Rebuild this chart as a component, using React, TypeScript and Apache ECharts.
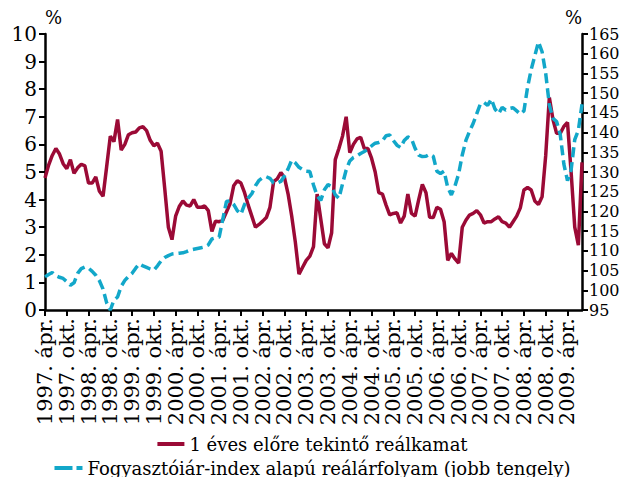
import React, { useEffect, useRef } from "react";
import * as echarts from "echarts";

const MONTH_NAMES = ["jan.", "febr.", "márc.", "ápr.", "máj.", "jún.", "júl.", "aug.", "szept.", "okt.", "nov.", "dec."];
const START_YEAR = 1997;
const START_MONTH = 3; // április
const MONTH_COUNT = 149;
const LABEL_EVERY = 6;

const categories: string[] = [];
for (let i = 0; i < MONTH_COUNT; i++) {
  const mi = START_MONTH + i;
  categories.push(`${START_YEAR + Math.floor(mi / 12)}. ${MONTH_NAMES[mi % 12]}`);
}

const RED_NAME = "1 éves előre tekintő reálkamat";
const BLUE_NAME = "Fogyasztóiár-index alapú reálárfolyam (jobb tengely)";

const realRate: number[] = [
  4.78, 5.25, 5.6, 5.85, 5.65, 5.3, 5.12, 5.45, 4.95, 5.15, 5.28, 5.22,
  4.6, 4.6, 4.82, 4.3, 4.12, 5.2, 6.3, 6.1, 6.9, 5.8, 6.0, 6.35,
  6.42, 6.45, 6.6, 6.64, 6.5, 6.15, 5.95, 6.04, 5.75, 4.4, 3.0, 2.55,
  3.4, 3.75, 3.95, 3.8, 3.77, 4.0, 3.72, 3.72, 3.77, 3.6, 2.85, 3.22,
  3.2, 3.25, 3.55, 3.85, 4.5, 4.68, 4.6, 4.25, 3.8, 3.4, 3.0, 3.1,
  3.22, 3.35, 3.72, 4.65, 4.75, 4.98, 4.8, 4.2, 3.4, 2.45, 1.3, 1.55,
  1.8, 1.95, 2.3, 4.2, 3.3, 2.4, 2.25, 2.8, 5.45, 5.85, 6.3, 7.0,
  5.7, 6.0, 6.2, 6.26, 5.85, 5.85, 5.5, 5.0, 4.25, 4.2, 3.8, 3.45,
  3.5, 3.52, 3.15, 3.4, 4.2, 3.5, 3.4, 4.0, 4.55, 4.25, 3.36, 3.35,
  3.72, 3.65, 3.2, 1.8, 2.05, 1.85, 1.7, 3.0, 3.25, 3.44, 3.5, 3.6,
  3.45, 3.15, 3.2, 3.2, 3.3, 3.38, 3.2, 3.15, 3.0, 3.2, 3.4, 3.7,
  4.35, 4.44, 4.35, 3.95, 3.82, 4.1, 5.6, 7.7, 6.9, 6.4, 6.4, 6.65,
  6.8, 5.0, 3.0, 2.35, 5.35,
];

const realExchangeRate: number[] = [
  103.4, 104.0, 104.5, 103.7, 103.3, 103.0, 102.2, 101.3, 101.9, 104.3, 105.5, 105.9,
  105.6, 104.8, 103.8, 102.4, 100.3, 96.8, 95.0, 97.5, 98.3, 101.0, 102.5, 103.5,
  104.3, 105.6, 106.7, 106.2, 105.8, 105.4, 105.1, 106.2, 107.5, 108.3, 108.8, 109.2,
  109.3, 109.4, 109.5, 109.8, 110.2, 110.4, 110.6, 110.8, 111.0, 111.5, 113.0, 113.3,
  113.5, 118.0, 122.5, 122.7, 121.8, 120.2, 119.3, 121.8, 123.4, 124.5, 126.5, 127.9,
  128.6, 128.8, 128.4, 127.2, 127.2, 127.6, 129.0, 130.8, 133.0, 132.3, 131.2, 130.6,
  130.2, 130.1, 126.7, 124.0, 122.8, 125.5, 126.8, 126.3, 124.2, 123.3, 127.0, 130.5,
  132.8, 133.7, 134.1, 134.7, 135.2, 135.8, 136.6, 137.3, 137.5, 137.9, 139.2, 139.4,
  138.0, 136.8, 136.2, 138.0, 138.9, 138.4, 136.0, 134.3, 133.9, 134.0, 134.5, 134.0,
  130.2, 129.6, 130.2, 126.0, 124.2, 126.5, 129.5, 134.3, 138.0, 140.3, 142.3, 144.8,
  147.3, 147.6, 146.9, 148.5, 146.0, 144.8, 146.4, 145.7, 146.1, 146.3, 145.5, 144.7,
  145.5, 151.5, 156.0, 159.5, 163.0, 160.5, 155.0, 147.0, 143.6, 142.8, 139.5, 132.0,
  127.8, 130.5, 138.2, 140.6, 147.2,
];

const FONT = "DejaVu Serif";
const RED = "#9B0A36";
const BLUE = "#12A7C9";

export default function App() {
  const ref = useRef<HTMLDivElement>(null);
  useEffect(() => {
    if (!ref.current) return;
    const chart = echarts.init(ref.current, undefined, { renderer: "svg" });
    const axisLine = { show: true, lineStyle: { color: "#000", width: 2.5 } };
    const axisTick = { show: true, length: 6, lineStyle: { color: "#000", width: 2 } };
    const legendText = { fontFamily: FONT, fontSize: 18, color: "#000" };
    const every = (index: number) => index % LABEL_EVERY === 0;
    chart.setOption({
      animation: false,
      backgroundColor: "#fff",
      textStyle: { fontFamily: FONT, color: "#000" },
      grid: { left: 45, right: 43, top: 34, bottom: 167, containLabel: false },
      legend: [
        {
          data: [{ name: RED_NAME, icon: "rect" }],
          top: 430,
          left: "center",
          itemWidth: 27,
          itemHeight: 4,
          itemGap: 6,
          textStyle: legendText,
        },
        {
          data: [{ name: BLUE_NAME, icon: "path://M0,0H18V4H0Z M22,0H28V4H22Z" }],
          top: 454,
          left: "center",
          itemWidth: 28,
          itemHeight: 4,
          textStyle: legendText,
        },
      ],
      xAxis: {
        type: "category",
        boundaryGap: false,
        data: categories,
        axisLine,
        axisTick: { ...axisTick, interval: every },
        axisLabel: {
          interval: every,
          rotate: 90,
          margin: 8,
          showMinLabel: true,
          showMaxLabel: true,
          hideOverlap: false,
          fontFamily: FONT,
          fontSize: 21,
          color: "#000",
        },
        splitLine: { show: false },
      },
      yAxis: [
        {
          type: "value",
          position: "left",
          min: 0,
          max: 10,
          interval: 1,
          axisLine,
          axisTick,
          axisLabel: { margin: 8, fontFamily: FONT, fontSize: 20, color: "#000" },
          splitLine: { show: false },
          name: "%",
          nameLocation: "end",
          nameGap: 8,
          nameTextStyle: { align: "left", fontFamily: FONT, fontSize: 18, color: "#000" },
        },
        {
          type: "value",
          position: "right",
          min: 95,
          max: 165,
          interval: 5,
          axisLine,
          axisTick,
          axisLabel: { margin: 7, fontFamily: FONT, fontSize: 16, color: "#000" },
          splitLine: { show: false },
          name: "%",
          nameLocation: "end",
          nameGap: 8,
          nameTextStyle: { align: "right", fontFamily: FONT, fontSize: 18, color: "#000" },
        },
      ],
      series: [
        {
          name: RED_NAME,
          type: "line",
          yAxisIndex: 0,
          data: realRate,
          symbol: "none",
          color: RED,
          lineStyle: { width: 3.5, color: RED },
        },
        {
          name: BLUE_NAME,
          type: "line",
          yAxisIndex: 1,
          data: realExchangeRate,
          symbol: "none",
          color: BLUE,
          lineStyle: { width: 3.5, color: BLUE, type: [10, 5] },
        },
      ],
    });
    return () => chart.dispose();
  }, []);
  return (
    <div
      ref={ref}
      style={{ position: "fixed", left: 0, top: 0, width: 625, height: 477 }}
    />
  );
}
